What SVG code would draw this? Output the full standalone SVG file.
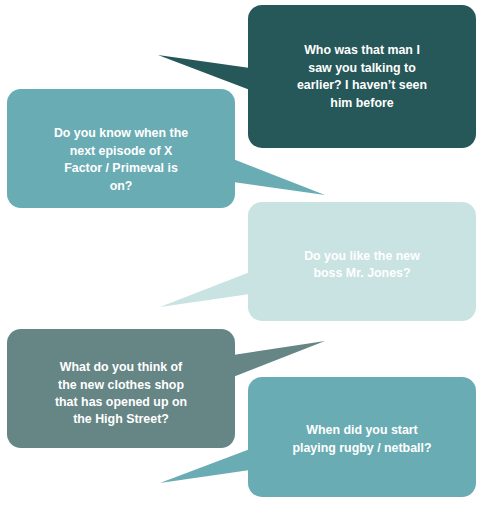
<svg xmlns="http://www.w3.org/2000/svg" width="487" height="512" viewBox="0 0 487 512">
<style>
text{font-family:"Liberation Sans",Arial,sans-serif;font-weight:bold;font-size:12.4px;fill:#ffffff;text-anchor:middle}
.c1{fill:#265759}.c2{fill:#6aacb3}.c3{fill:#c9e2e2}.c4{fill:#668585}
</style>
<rect width="487" height="512" fill="#ffffff"/>
<g id="connectors"/>
<g id="bubble1" class="c1">
<polygon points="250,68 158,55 250,90"/>
<rect x="248" y="5" width="228" height="143" rx="14"/>
<text x="362" y="54">Who was that man I</text>
<text x="362" y="72">saw you talking to</text>
<text x="362" y="89">earlier? I haven’t seen</text>
<text x="362" y="107">him before</text>
</g>
<g id="bubble2" class="c2">
<polygon points="233,159 325,195 233,182"/>
<rect x="7" y="89" width="228" height="119" rx="14"/>
<text x="121" y="137">Do you know when the</text>
<text x="121" y="155">next episode of X</text>
<text x="121" y="172">Factor / Primeval is</text>
<text x="121" y="190">on?</text>
</g>
<g id="bubble3" class="c3">
<polygon points="250,272 160,307 250,294"/>
<rect x="248" y="202" width="228" height="119" rx="14"/>
<text x="362" y="260">Do you like the new</text>
<text x="362" y="277">boss Mr. Jones?</text>
</g>
<g id="bubble4" class="c4">
<polygon points="233,355 325,341 233,377"/>
<rect x="7" y="329" width="228" height="119" rx="14"/>
<text x="121" y="371">What do you think of</text>
<text x="121" y="389">the new clothes shop</text>
<text x="121" y="406">that has opened up on</text>
<text x="121" y="423">the High Street?</text>
</g>
<g id="bubble5" class="c2">
<polygon points="250,449 160,483 250,470"/>
<rect x="248" y="377" width="228" height="120" rx="14"/>
<text x="362" y="434">When did you start</text>
<text x="362" y="452">playing rugby / netball?</text>
</g>
</svg>
